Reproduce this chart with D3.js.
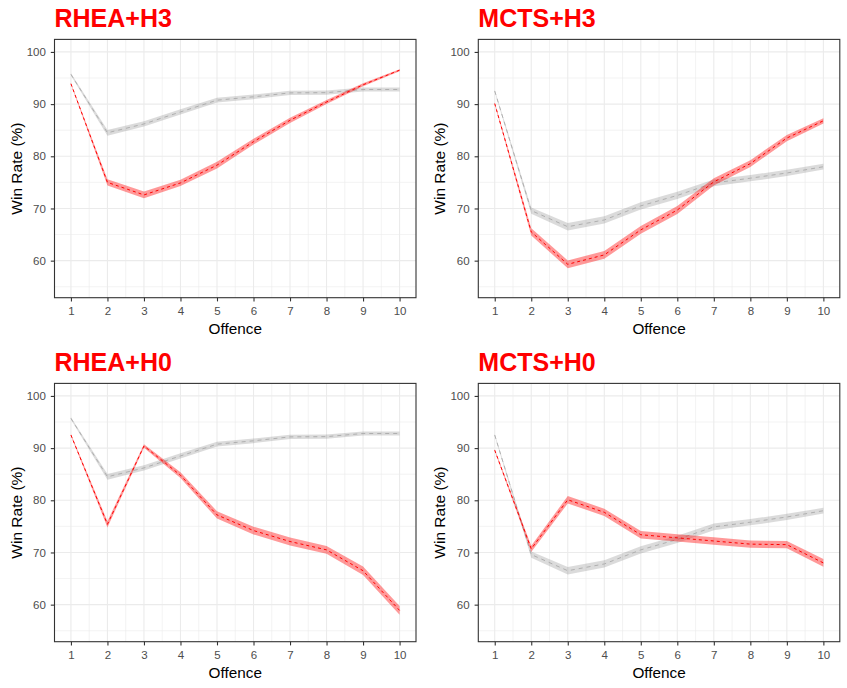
<!DOCTYPE html>
<html>
<head>
<meta charset="utf-8">
<script src="https://cdn.jsdelivr.net/npm/d3@7"></script>
<style>
  body { margin: 0; background: #fff; }
  svg { display: block; font-family: Arial, "Liberation Sans", sans-serif; }
</style>
</head>
<body>
<div id="chart"></div>
<script>
// offence levels on the x axis
var offence = [1, 2, 3, 4, 5, 6, 7, 8, 9, 10];
var yTicks = [60, 70, 80, 90, 100];
var panelTitles = ["RHEA+H3", "MCTS+H3", "RHEA+H0", "MCTS+H0"];

// grey baseline series (same baseline for both RHEA panels, both MCTS panels)
var rheaBase = [95.7, 84.5, 86.2, 88.5, 90.75, 91.4, 92.15, 92.2, 92.8, 92.8];
var rheaBaseErr = [0.2, 0.55, 0.5, 0.5, 0.45, 0.45, 0.4, 0.4, 0.4, 0.4];
var mctsBase = [92.5, 69.6, 66.5, 67.8, 70.5, 72.5, 74.9, 75.8, 76.8, 78.0];
var mctsBaseErr = [0.2, 0.6, 0.7, 0.7, 0.7, 0.7, 0.65, 0.6, 0.6, 0.55];

// red series per panel
var rheaH3 = [93.9, 75.0, 72.6, 74.9, 78.3, 82.8, 86.9, 90.4, 93.7, 96.5];
var rheaH3Err = [0.15, 0.6, 0.65, 0.6, 0.65, 0.55, 0.5, 0.4, 0.3, 0.2];
var mctsH3 = [90.1, 65.5, 59.3, 61.1, 65.9, 69.7, 75.1, 78.6, 83.5, 86.8];
var mctsH3Err = [0.2, 0.7, 0.75, 0.75, 0.75, 0.75, 0.7, 0.65, 0.6, 0.5];
var rheaH0 = [92.5, 75.4, 90.4, 84.8, 77.2, 74.2, 72.1, 70.5, 66.5, 58.9];
var rheaH0Err = [0.2, 0.6, 0.35, 0.55, 0.7, 0.75, 0.75, 0.75, 0.8, 0.85];
var mctsH0 = [89.6, 70.7, 80.1, 77.7, 73.4, 72.8, 72.2, 71.6, 71.5, 68.0];
var mctsH0Err = [0.2, 0.6, 0.7, 0.7, 0.7, 0.7, 0.7, 0.7, 0.7, 0.75];

var panels = [
    { title: panelTitles[0], base: rheaBase, baseErr: rheaBaseErr, red: rheaH3, redErr: rheaH3Err, col: 0, row: 0 },
    { title: panelTitles[1], base: mctsBase, baseErr: mctsBaseErr, red: mctsH3, redErr: mctsH3Err, col: 1, row: 0 },
    { title: panelTitles[2], base: rheaBase, baseErr: rheaBaseErr, red: rheaH0, redErr: rheaH0Err, col: 0, row: 1 },
    { title: panelTitles[3], base: mctsBase, baseErr: mctsBaseErr, red: mctsH0, redErr: mctsH0Err, col: 1, row: 1 }
];

var W = 847, H = 688;
var svg = d3.select("#chart").append("svg")
    .attr("width", W)
    .attr("height", H);

// plot area of each panel
var plotW = 361.5, plotH = 258.3;
var colX = [54.5, 478.3];
var rowY = [39.4, 383.4];

function drawPanel(p) {
    var g = svg.append("g")
        .attr("transform", "translate(" + colX[p.col] + "," + rowY[p.row] + ")");

    var x = d3.scaleLinear().domain([0.55, 10.45]).range([0, plotW]);
    var y = d3.scaleLinear().domain([52.9, 102.4]).range([plotH, 0]);

    // grid: minor first, then major
    var xMinor = d3.range(1.5, 10, 1);
    var yMinor = [55, 65, 75, 85, 95];
    g.selectAll(".xminor").data(xMinor).enter().append("line")
        .attr("x1", d => x(d)).attr("x2", d => x(d))
        .attr("y1", 0).attr("y2", plotH)
        .style("stroke", "#EBEBEB").style("stroke-width", 0.6);
    g.selectAll(".yminor").data(yMinor).enter().append("line")
        .attr("y1", d => y(d)).attr("y2", d => y(d))
        .attr("x1", 0).attr("x2", plotW)
        .style("stroke", "#EBEBEB").style("stroke-width", 0.6);
    g.selectAll(".xmajor").data(offence).enter().append("line")
        .attr("x1", d => x(d)).attr("x2", d => x(d))
        .attr("y1", 0).attr("y2", plotH)
        .style("stroke", "#EBEBEB").style("stroke-width", 1.1);
    g.selectAll(".ymajor").data(yTicks).enter().append("line")
        .attr("y1", d => y(d)).attr("y2", d => y(d))
        .attr("x1", 0).attr("x2", plotW)
        .style("stroke", "#EBEBEB").style("stroke-width", 1.1);

    var area = d3.area()
        .x(d => x(d.x))
        .y0(d => y(d.v - d.e))
        .y1(d => y(d.v + d.e));
    var line = d3.line()
        .x(d => x(d.x))
        .y(d => y(d.v));

    var baseData = offence.map((o, i) => ({ x: o, v: p.base[i], e: p.baseErr[i] }));
    var redData = offence.map((o, i) => ({ x: o, v: p.red[i], e: p.redErr[i] }));

    // grey baseline
    g.append("path").datum(baseData)
        .attr("d", area)
        .style("fill", "#7F7F7F").style("fill-opacity", 0.28);
    g.append("path").datum(baseData)
        .attr("d", line)
        .style("fill", "none").style("stroke", "#AFAFAF")
        .style("stroke-width", 1).style("stroke-dasharray", "4,4");

    // red series
    g.append("path").datum(redData)
        .attr("d", area)
        .style("fill", "#FF0000").style("fill-opacity", 0.4);
    g.append("path").datum(redData)
        .attr("d", line)
        .style("fill", "none").style("stroke", "#FF0000")
        .style("stroke-width", 1).style("stroke-dasharray", "3,3");

    // frame
    g.append("rect")
        .attr("width", plotW).attr("height", plotH)
        .style("fill", "none").style("stroke", "#333333").style("stroke-width", 1.1);

    // axes
    var xAxis = g.append("g")
        .attr("transform", "translate(0," + plotH + ")")
        .call(d3.axisBottom(x).tickValues(offence).tickSize(3.7).tickPadding(5));
    var yAxis = g.append("g")
        .call(d3.axisLeft(y).tickValues(yTicks).tickSize(3.7).tickPadding(5));
    [xAxis, yAxis].forEach(function (a) {
        a.select(".domain").remove();
        a.selectAll("line").style("stroke", "#333333").style("stroke-width", 1.1);
        a.selectAll("text")
            .style("fill", "#4D4D4D")
            .style("font-size", "11.5px")
            .style("font-family", "Arial, 'Liberation Sans', sans-serif");
    });

    // axis titles
    g.append("text")
        .attr("x", plotW / 2).attr("y", plotH + 36)
        .attr("text-anchor", "middle")
        .style("font-size", "15.3px").style("fill", "#000")
        .text("Offence");
    g.append("text")
        .attr("transform", "translate(-33," + plotH / 2 + ") rotate(-90)")
        .attr("text-anchor", "middle")
        .style("font-size", "15.5px").style("fill", "#000")
        .text("Win Rate (%)");

    // panel title
    g.append("text")
        .attr("x", 0).attr("y", -12)
        .style("font-size", "25px").style("font-weight", "bold")
        .style("fill", "#FF0000")
        .text(p.title);
}

panels.forEach(drawPanel);
</script>
</body>
</html>
